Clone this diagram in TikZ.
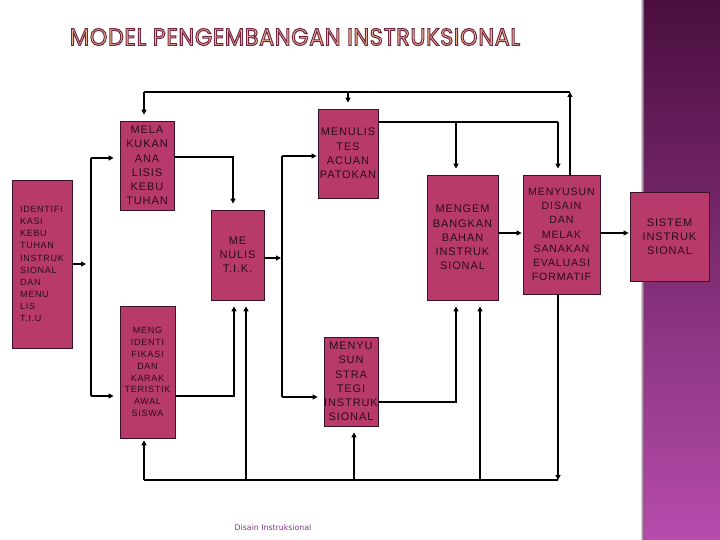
\documentclass[tikz,border=0pt]{standalone}
\usepackage{fontspec}
\setmainfont{Liberation Sans}
\newfontfamily\boxfont[LetterSpace=8]{Liberation Sans}
\newfontfamily\titlefont[LetterSpace=3]{Poppins}
\newfontfamily\capfont{DejaVu Sans}
\usetikzlibrary{arrows.meta}
\definecolor{boxfill}{RGB}{184,58,106}
\definecolor{boxline}{RGB}{60,18,40}
\definecolor{boxtext}{RGB}{40,12,28}
\definecolor{bandtop}{RGB}{74,14,62}
\definecolor{bandbot}{RGB}{182,76,172}
\definecolor{ttlfill}{RGB}{250,200,158}
\definecolor{capcol}{RGB}{125,55,135}
\newcommand{\ttltext}{\resizebox{450pt}{17pt}{\color{ttlfill}\special{pdf:literal direct 2 Tr 0.45 w 0.45 0.15 0.25 RG}\titlefont MODEL PENGEMBANGAN INSTRUKSIONAL\special{pdf:literal direct 0 Tr}}}
\tikzset{
  bx/.style={draw=boxline, line width=0.8pt, fill=boxfill, inner sep=0pt, text=boxtext,
    align=center, font=\boxfont\fontsize{11}{14.2}\selectfont},
  ln/.style={line width=1.4pt, draw=black},
  arr/.style={ln, -{Triangle[length=5pt,width=5pt]}},
  gapend/.style={shorten >=6pt}
}
\begin{document}
\begin{tikzpicture}[x=1pt,y=-1pt]
\path[use as bounding box] (0,0) rectangle (720,540);
% side band
\shade[top color=bandtop, bottom color=bandbot] (643,0) rectangle (720,540);
\shade[left color=white, right color=bandtop!60!gray] (640,0) rectangle (644,540);
% title
\node[inner sep=0pt] (ttl) at (295,37) {\ttltext};
% boxes
\node[bx, minimum width=60pt, minimum height=168pt, align=left,
  font=\boxfont\fontsize{9}{12.1}\selectfont] (A) at (42,264)
  {IDENTIFI\\KASI\\KEBU\\TUHAN\\INSTRUK\\SIONAL\\DAN\\MENU\\LIS\\T.I.U};
\node[bx, minimum width=54pt, minimum height=89pt] (B) at (147,165.5)
  {MELA\\KUKAN\\ANA\\LISIS\\KEBU\\TUHAN};
\node[bx, minimum width=60pt, minimum height=89pt] (C) at (348,153.5)
  {MENULIS\\TES\\ACUAN\\PATOKAN};
\node[bx, minimum width=53pt, minimum height=90pt] (D) at (237.5,255)
  {ME\\NULIS\\T.I.K.};
\node[bx, minimum width=71pt, minimum height=125pt] (E) at (462.5,237.5)
  {MENGEM\\BANGKAN\\BAHAN\\INSTRUK\\SIONAL};
\node[bx, minimum width=77pt, minimum height=119pt,
  font=\boxfont\fontsize{10.6}{14.2}\selectfont] (F) at (561.5,234.5)
  {MENYUSUN\\DISAIN\\DAN\\MELAK\\SANAKAN\\EVALUASI\\FORMATIF};
\node[bx, minimum width=54pt, minimum height=89pt] (G) at (351,381.5)
  {MENYU\\SUN\\STRA\\TEGI\\INSTRUK\\SIONAL};
\node[bx, minimum width=55pt, minimum height=132pt,
  font=\boxfont\fontsize{9}{11.9}\selectfont] (H) at (147.5,372)
  {MENG\\IDENTI\\FIKASI\\DAN\\KARAK\\TERISTIK\\AWAL\\SISWA};
\node[bx, minimum width=79pt, minimum height=89pt] (S) at (669.5,236.5)
  {SISTEM\\INSTRUK\\SIONAL};
% caption
\node[text=capcol, font=\capfont\fontsize{7.8}{9}\selectfont, inner sep=0pt] (cap) at (273,528)
  {Disain Instruksional};
% coordinates
\coordinate (aE) at (86,264);
\coordinate (lvT) at (91,158);
\coordinate (lvB) at (91,396);
\coordinate (tL) at (144,92);
\coordinate (tR) at (570,92);
\coordinate (tC) at (348,92);
\coordinate (cR) at (558,122);
\coordinate (cE) at (456,122);
\coordinate (bD) at (233,157);
\coordinate (dE) at (281,258);
\coordinate (mvT) at (282,156);
\coordinate (mvB) at (282,397);
\coordinate (hD) at (234,396);
\coordinate (bL) at (144,480);
\coordinate (bR) at (558,480);
\coordinate (bD2) at (246,480);
\coordinate (bG) at (354,480);
\coordinate (bE) at (480,480);
\coordinate (gE) at (456,402);
\coordinate (eF) at (500,233);
% connectors
\draw[arr] (A.east |- aE) -- (aE);
\draw[ln] (lvT) -- (lvB);
\draw[arr,gapend] (lvT) -- (lvT -| B.west);
\draw[arr,gapend] (lvB) -- (lvB -| H.west);
\draw[arr] (F.north -| tR) -- (tR);
\draw[ln] (tR) -- (tL);
\draw[arr,gapend] (tL) -- (tL |- B.north);
\draw[arr,gapend] (tC) -- (C.north);
\draw[ln] (C.east |- cR) -- (cR);
\draw[arr,gapend] (cR) -- (cR |- F.north);
\draw[arr,gapend] (cE) -- (cE |- E.north);
\draw[arr,gapend] (B.east |- bD) -- (bD) -- (bD |- D.north);
\draw[arr] (D.east |- dE) -- (dE);
\draw[ln] (mvT) -- (mvB);
\draw[arr,shorten >=1pt] (mvT) -- (mvT -| C.west);
\draw[arr,gapend] (mvB) -- (mvB -| G.west);
\draw[arr,gapend] (H.east |- hD) -- (hD) -- (hD |- D.south);
\draw[arr] (F.south -| bR) -- (bR);
\draw[ln] (bR) -- (bL);
\draw[arr,shorten >=2pt] (bL) -- (bL |- H.south);
\draw[arr,gapend] (bD2) -- (bD2 |- D.south);
\draw[arr,gapend] (bG) -- (bG |- G.south);
\draw[arr,gapend] (bE) -- (bE |- E.south);
\draw[arr,gapend] (G.east |- gE) -- (gE) -- (gE |- E.south);
\draw[arr,shorten >=1pt] (E.east |- eF) -- (eF -| F.west);
\draw[arr,shorten >=1pt] (F.east |- eF) -- (eF -| S.west);
\end{tikzpicture}
\end{document}
